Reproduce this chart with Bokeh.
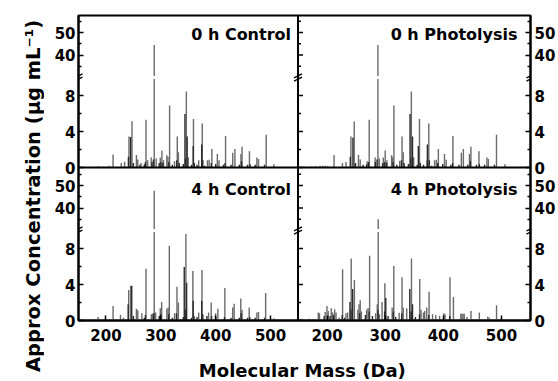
import numpy as np
from bokeh.plotting import figure
from bokeh.layouts import row, column
from bokeh.models import FixedTicker, LinearAxis, Range1d, Label, Span
from bokeh.core.properties import value
from bokeh.embed import file_html
from bokeh.resources import INLINE

# ---------------- data ----------------
panel_titles = ["0 h Control", "0 h Photolysis", "4 h Control", "4 h Photolysis"]
x_ticks = [200, 300, 400, 500]
y_major = [0, 4, 8, 40, 50]
y_minor = [2, 6, 35, 45, 55]

# 0 h Control
c0_mass = [186, 206, 213, 228, 234, 242, 247.5, 255.5, 258, 264, 273, 276, 282.5, 288, 291.5, 299, 302, 305,
           311, 313, 316, 325, 330, 332, 346.5, 350, 359.5, 369, 375.5, 385, 388, 393, 403, 406, 418, 431, 435,
           446, 448, 461.5, 475, 478, 492, 506]
c0_conc = [0.15, 0.2, 1.45, 0.5, 0.65, 3.45, 5.15, 1.4, 0.9, 0.5, 5.3, 0.8, 1.1, 44.5, 1.0, 1.1, 1.9, 0.8,
           1.35, 1.2, 6.9, 0.7, 3.45, 1.7, 8.45, 1.15, 5.4, 0.8, 4.9, 0.8, 0.85, 2.05, 1.5, 0.8, 3.5, 1.65, 2.05,
           1.5, 2.3, 1.8, 1.1, 0.95, 3.65, 0.35]
c0_dark_mass = [245, 344, 348, 359, 374.5, 241, 272, 286.5, 300, 314.5, 329, 345, 361, 376.5, 392, 417, 447,
                462.5, 262, 270, 297, 321, 341, 356, 366, 380, 400, 414, 428, 443, 458, 472, 489, 250, 284, 303.5,
                333.5]
c0_dark_conc = [3.4, 5.95, 3.45, 2.4, 2.55, 1.2, 0.6, 0.9, 0.6, 0.6, 0.8, 1.0, 0.5, 0.8, 0.5, 0.5, 0.7,
                0.4, 0.3, 0.35, 0.5, 0.3, 0.4, 0.3, 0.3, 0.2, 0.4, 0.3, 0.3, 0.3, 0.3, 0.3, 0.3, 0.5, 0.6, 0.5,
                0.5]

# 0 h Photolysis
p0_mass = [160, 172, 180, 188, 193, 197, 201, 212, 226.5, 232.5, 241, 246.7, 254, 257, 269, 272.5, 282.7, 287.5,
           290, 296.8, 300, 303, 311, 313, 315, 325, 329, 331, 345, 349, 359, 372, 375, 385, 388, 391.5, 402,
           405, 416.5, 431, 434.5, 445, 447.5, 461.3, 475, 477.5, 491.5, 506]
p0_conc = [0.1, 0.12, 0.15, 0.2, 0.2, 0.2, 0.15, 1.4, 0.5, 0.6, 3.45, 5.1, 1.4, 0.9, 0.7, 5.3, 1.1, 44.5,
           1.0, 1.1, 1.9, 0.8, 1.35, 1.15, 6.9, 0.75, 3.45, 1.7, 8.45, 1.15, 5.4, 0.8, 4.9, 0.8, 0.85, 2.05, 1.5,
           0.85, 3.5, 1.65, 2.05, 1.5, 2.3, 1.8, 1.1, 0.95, 3.65, 0.35]
p0_dark_mass = [244.5, 342.8, 347, 357, 372.6, 240, 271.5, 286, 299, 313.8, 328, 344, 360.5, 376, 390.5, 416,
                446.5, 462, 262, 268, 295.5, 320, 340, 355, 366, 380, 399, 413, 427, 442, 457, 471, 488, 249,
                283, 302.5, 332.5]
p0_dark_conc = [3.3, 5.95, 3.45, 2.4, 2.55, 1.2, 0.6, 0.9, 0.6, 0.6, 0.8, 1.0, 0.5, 0.8, 0.5, 0.5, 0.7,
                0.4, 0.3, 0.35, 0.5, 0.3, 0.4, 0.3, 0.3, 0.2, 0.4, 0.3, 0.3, 0.3, 0.3, 0.3, 0.3, 0.5, 0.6, 0.5,
                0.5]

# 4 h Control
c4_mass = [185.8, 213, 226.5, 232, 241.5, 245, 255.5, 258, 265.5, 273, 282.7, 285, 288, 290.6, 299, 301.5, 311,
           313.3, 315.5, 325, 329.4, 332, 345.7, 358.4, 369, 375, 387, 391.8, 400, 404, 416.7, 431, 433.6, 445.7,
           448, 461, 475, 478, 491, 506]
c4_conc = [0.4, 1.6, 0.65, 0.3, 3.4, 3.85, 1.3, 1.15, 0.8, 5.75, 0.7, 0.75, 47.7, 0.9, 1.35, 2.05, 1.3,
           1.45, 8.3, 0.8, 3.75, 2.0, 9.6, 5.5, 0.9, 5.6, 0.9, 2.0, 0.8, 1.3, 3.6, 1.45, 1.85, 2.45,
           1.2, 1.45, 0.9, 0.95, 3.05, 0.25]
c4_dark_mass = [247, 342.7, 347, 359, 374.5, 240.5, 272, 287, 300, 314.5, 328.5, 344.5, 360.5, 376.5, 392.5,
                416, 446.5, 462, 270, 297, 321, 341, 356, 366, 384, 400, 428, 443, 458, 472, 489, 250]
c4_dark_conc = [3.85, 5.95, 4.2, 2.2, 2.2, 1.8, 0.6, 0.8, 0.7, 0.7, 0.8, 1.2, 0.5, 0.7, 0.5,
                0.4, 0.8, 0.4, 0.3, 0.5, 0.3, 0.4, 0.3, 0.4, 0.5, 0.4, 0.3, 0.3, 0.3, 0.3, 0.3, 0.5]

# 4 h Photolysis
p4_mass = [155, 160, 169, 173.8, 177.8, 184.9, 187, 196.7, 199.8, 202, 207.2, 209.5, 213, 215.4, 221, 226.7,
           232.5, 235.4, 241.5, 247, 253, 255, 257, 259, 268, 270.5, 273.2, 283.5, 286.4, 288, 290, 294.6,
           299.4, 312, 314.8, 324, 329, 331, 337, 345.2, 359.4, 361.7, 365.8, 368, 371.5, 375.5, 381.5, 387,
           393.6, 400.7, 403, 411.5, 417.4, 430, 432, 434, 436, 440.7, 447.6, 462, 476.5, 479, 491.6]
p4_conc = [0.2, 0.15, 0.2, 0.15, 0.15, 0.9, 0.8, 0.95, 1.6, 1.05, 1.35, 0.9, 1.25, 0.9, 0.3, 5.7,
           0.8, 0.9, 6.9, 4.5, 1.2, 1.8, 2.25, 1.0, 1.2, 1.4, 7.2, 0.8, 1.8, 35.0, 0.7, 2.05,
           4.15, 1.45, 6.05, 0.85, 4.8, 1.45, 1.35, 6.9, 4.6, 1.2, 0.9, 1.05, 1.45, 3.2, 0.7, 0.6,
           0.5, 0.8, 0.7, 4.8, 2.6, 0.75, 0.75, 0.75, 0.75, 0.4, 1.05, 0.9, 0.45, 0.3, 1.7]
p4_dark_mass = [239.4, 244, 301, 342.3, 347, 226, 241, 272.5, 287.5, 299, 314, 328.5, 344.5, 359, 375, 411,
                256, 266, 278, 305, 318, 352, 195, 205, 211, 230]
p4_dark_conc = [2.05, 3.5, 2.5, 3.5, 1.8, 0.6, 1.2, 1.0, 1.2, 1.0, 1.0, 0.8, 1.0, 0.7, 0.6, 0.5,
                0.8, 0.6, 0.5, 0.5, 0.4, 0.4, 0.5, 0.5, 0.6, 0.3]

panels = [
    (c0_mass, c0_conc, c0_dark_mass, c0_dark_conc),
    (p0_mass, p0_conc, p0_dark_mass, p0_dark_conc),
    (c4_mass, c4_conc, c4_dark_mass, c4_dark_conc),
    (p4_mass, p4_conc, p4_dark_mass, p4_dark_conc),
]

# ---------------- layout of the 2x2 grid inside one frame ----------------
XMIN, XMAX = 150.0, 550.0
COL_W = [220.0, 233.0]          # pixel width of left / right panel
ROW_H = [152.0, 153.0]          # pixel height of top / bottom panel
COL_X0 = [0.0, COL_W[0]]
ROW_Y0 = [ROW_H[1], 0.0]        # top row sits above bottom row
FRAME_W = COL_W[0] + COL_W[1]
FRAME_H = ROW_H[0] + ROW_H[1]

# broken y axis: 0-10 (9 px / unit) then 30-58 (2.25 px / unit)
LOW_MAX, HIGH_MIN = 10.0, 30.0
LOW_PX, HIGH_PX = 9.0, 2.25
BREAK = LOW_MAX * LOW_PX
GAP = 1.6


def T(v):
    v = np.asarray(v, dtype=float)
    return np.where(v <= LOW_MAX, v * LOW_PX, BREAK + (v - HIGH_MIN) * HIGH_PX)


def X(m, col):
    return COL_X0[col] + (np.asarray(m, dtype=float) - XMIN) * COL_W[col] / (XMAX - XMIN)


def sticks(mass, conc, col, rw):
    xs = X(mass, col)
    h = np.asarray(conc, float)
    t = T(h)
    oy = ROW_Y0[rw]
    x0, y0, y1 = [], [], []
    for xv, hv, tv in zip(xs, h, t):
        if hv <= LOW_MAX:
            x0.append(xv); y0.append(oy); y1.append(oy + tv)
        else:
            x0.append(xv); y0.append(oy); y1.append(oy + BREAK - GAP)
            x0.append(xv); y0.append(oy + BREAK + GAP); y1.append(oy + tv)
    return dict(x0=x0, y0=y0, x1=x0, y1=y1)


FONT = "DejaVu Sans"

p = figure(width=34 + int(FRAME_W) + 27, height=15 + int(FRAME_H) + 30,
           x_range=Range1d(0, FRAME_W), y_range=Range1d(0, FRAME_H),
           output_backend="svg", toolbar_location=None, title_location=None,
           x_axis_location=None, y_axis_location=None,
           min_border_left=34, min_border_right=27, min_border_top=15, min_border_bottom=30)
p.grid.visible = False
p.outline_line_color = "black"
p.outline_line_width = 2
p.background_fill_color = "white"
p.border_fill_color = "white"

for idx in range(4):
    col, rw = idx % 2, idx // 2
    mass, conc, dmass, dconc = panels[idx]
    p.segment(source=sticks(mass, conc, col, rw), x0="x0", y0="y0", x1="x1", y1="y1",
              line_color="#6a6a6a", line_width=1.4)
    p.segment(source=sticks(dmass, dconc, col, rw), x0="x0", y0="y0", x1="x1", y1="y1",
              line_color="#2a2a2a", line_width=1.4)

# dividers
p.add_layout(Span(location=COL_W[0], dimension="height", line_color="black", line_width=2))
p.add_layout(Span(location=ROW_H[1], dimension="width", line_color="black", line_width=2))


def style_axis(ax):
    ax.major_tick_in = 5
    ax.major_tick_out = 0
    ax.minor_tick_in = 3
    ax.minor_tick_out = 0
    ax.axis_line_width = 2
    ax.axis_line_color = "black"
    ax.major_tick_line_width = 1.5
    ax.minor_tick_line_width = 1.5
    ax.major_label_text_font = FONT
    ax.major_label_text_font_style = "bold"
    ax.major_label_text_font_size = "15px"
    ax.major_label_text_color = "black"


# y axes (left and right), ticks for both rows
y_tick_pos, y_tick_lab, y_min_pos = [], {}, []
for rw in (1, 0):
    for t, v in zip(T(y_major), y_major):
        pos = float(ROW_Y0[rw] + t)
        y_tick_pos.append(pos)
        y_tick_lab[pos] = str(v)
    y_min_pos += [float(ROW_Y0[rw] + t) for t in T(y_minor)]

for side, standoff in (("left", 3), ("right", 4)):
    ax = LinearAxis(ticker=FixedTicker(ticks=y_tick_pos, minor_ticks=y_min_pos))
    ax.major_label_overrides = dict(y_tick_lab)
    style_axis(ax)
    ax.major_label_standoff = standoff
    p.add_layout(ax, side)

# x axis: ticks of both columns
x_tick_pos, x_tick_lab = [], {}
for col in (0, 1):
    for m in x_ticks:
        pos = float(X(m, col))
        x_tick_pos.append(pos)
        x_tick_lab[pos] = str(m)
xa = LinearAxis(ticker=FixedTicker(ticks=x_tick_pos))
xa.major_label_overrides = x_tick_lab
style_axis(xa)
xa.major_label_standoff = 8
p.add_layout(xa, "below")

# inward ticks on the middle divider (left edge of right-hand panels)
tx0, ty0, tx1 = [], [], []
for pos in y_tick_pos:
    tx0.append(COL_W[0]); tx1.append(COL_W[0] + 5); ty0.append(pos)
for pos in y_min_pos:
    tx0.append(COL_W[0]); tx1.append(COL_W[0] + 3); ty0.append(pos)
p.segment(x0=tx0, y0=ty0, x1=tx1, y1=ty0, line_color="black", line_width=1.5)

# axis-break marks
bx0, bx1, by0, by1 = [], [], [], []
for edge in (0.0, COL_W[0], FRAME_W):
    for rw in (0, 1):
        for off in (-1.6, 1.6):
            yc = ROW_Y0[rw] + BREAK + off
            bx0.append(edge - 4); bx1.append(edge + 4)
            by0.append(yc - 2); by1.append(yc + 2)
p.segment(x0=bx0, y0=by0, x1=bx1, y1=by1, line_color="black", line_width=1.3)

# panel titles (right edges in frame pixels)
title_right = [213, 440, 213, 440]
title_y = [286, 286, 131, 131]
for idx in range(4):
    p.add_layout(Label(x=title_right[idx], y=title_y[idx], text=panel_titles[idx],
                       text_align="right", text_baseline="middle", text_font=FONT,
                       text_font_style="bold", text_font_size="16px", text_color="black"))

# y title
yf = figure(width=44, height=381, x_range=Range1d(0, 44), y_range=Range1d(0, 381),
            output_backend="svg", toolbar_location=None, title_location=None,
            x_axis_location=None, y_axis_location=None, min_border=0)
yf.outline_line_color = None
yf.grid.visible = False
yf.text(x=[33], y=[189], text=["Approx  Concentration (\u03bcg mL\u207b\u00b9)"], angle=np.pi / 2,
        text_align="center", text_baseline="alphabetic", text_font=value(FONT),
        text_font_style="bold", text_font_size="19.5px", text_color="black")

# x title
xf = figure(width=p.width, height=31, x_range=Range1d(0, p.width), y_range=Range1d(0, 31),
            output_backend="svg", toolbar_location=None, title_location=None,
            x_axis_location=None, y_axis_location=None, min_border=0)
xf.outline_line_color = None
xf.grid.visible = False
xf.text(x=[254.5], y=[11], text=["Molecular Mass (Da)"], text_align="center", text_baseline="middle",
        text_font=value(FONT), text_font_style="bold", text_font_size="18px", text_color="black")

layout = row(yf, column(p, xf))

with open("out.html", "w") as f:
    f.write(file_html(layout, INLINE))
